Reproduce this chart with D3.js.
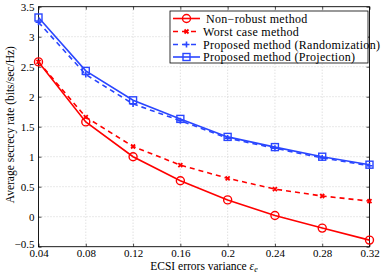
<!DOCTYPE html>
<html><head><meta charset="utf-8">
<script src="https://cdn.jsdelivr.net/npm/d3@7"></script>
<style>body{margin:0;background:#fff}svg{display:block}</style>
</head><body><svg id="c" width="382" height="273" font-family="Liberation Serif"></svg>
<script>
const xValues = [0.04,0.08,0.12,0.16,0.2,0.24,0.28,0.32];
const nonRobust = [2.58,1.58,1.0,0.6,0.28,0.02,-0.19,-0.39];
const worstCase = [2.58,1.66,1.17,0.86,0.64,0.46,0.345,0.26];
const randomization = [3.24,2.37,1.88,1.6,1.31,1.14,0.98,0.85];
const projection = [3.32,2.43,1.94,1.63,1.33,1.16,1.0,0.867];
const seriesNames = ["Non\u2212robust method","Worst case method","Proposed method (Randomization)","Proposed method (Projection)"];
const xTicks = [0.04,0.08,0.12,0.16,0.2,0.24,0.28,0.32];
const xTickLabels = ["0.04","0.08","0.12","0.16","0.2","0.24","0.28","0.32"];
const yTicks = [-0.5,0,0.5,1,1.5,2,2.5,3,3.5];
const yTickLabels = ["\u22120.5","0","0.5","1","1.5","2","2.5","3","3.5"];

const FF = "Liberation Serif";
const svg = d3.select("#c");
const L=38.5,R=369.5,T=6.7,B=246.7;
const x = d3.scaleLinear().domain([0.04,0.32]).range([L,R]);
const y = d3.scaleLinear().domain([-0.5,3.5]).range([B,T]);

// grid
const g = svg.append("g");
g.selectAll(".gx").data(xTicks.slice(1,-1)).join("line")
 .attr("x1",d=>x(d)).attr("x2",d=>x(d)).attr("y1",T).attr("y2",B)
 .attr("stroke","#c8c8c8").attr("stroke-width",0.8).attr("stroke-dasharray","1,2");
g.selectAll(".gy").data(yTicks.slice(1,-1)).join("line")
 .attr("y1",d=>y(d)).attr("y2",d=>y(d)).attr("x1",L).attr("x2",R)
 .attr("stroke","#c8c8c8").attr("stroke-width",0.8).attr("stroke-dasharray","1,2");

// axes
const xa = svg.append("g").attr("transform",`translate(0,${B})`)
 .call(d3.axisBottom(x).tickValues(xTicks).tickFormat((d,i)=>xTickLabels[i]).tickSizeInner(-3).tickSizeOuter(0).tickPadding(3));
const xa2 = svg.append("g").attr("transform",`translate(0,${T})`)
 .call(d3.axisTop(x).tickValues(xTicks).tickFormat("").tickSizeInner(-3).tickSizeOuter(0));
const ya = svg.append("g").attr("transform",`translate(${L},0)`)
 .call(d3.axisLeft(y).tickValues(yTicks).tickFormat((d,i)=>yTickLabels[i]).tickSizeInner(-3).tickSizeOuter(0).tickPadding(4));
const ya2 = svg.append("g").attr("transform",`translate(${R},0)`)
 .call(d3.axisRight(y).tickValues(yTicks).tickFormat("").tickSizeInner(-3).tickSizeOuter(0));
[xa,xa2,ya,ya2].forEach(a=>{a.attr("font-family",FF).attr("font-size",11);a.select(".domain").remove();a.selectAll("line").attr("stroke","#000").attr("stroke-width",0.7);
 a.selectAll("text").attr("fill","#000");});
xa.selectAll("text").attr("dy","0.62em");
ya.selectAll("text").filter(d=>d===-0.5).attr("dy","0.05em");
svg.append("rect").attr("x",L).attr("y",T).attr("width",R-L).attr("height",B-T).attr("fill","none").attr("stroke","#000").attr("stroke-width",0.9);

// labels
svg.append("text").attr("x",(L+R)/2).attr("y",270).attr("text-anchor","middle").attr("font-size",11.5).attr("font-family",FF)
 .html('ECSI errors variance <tspan font-style="italic">ε</tspan><tspan font-style="italic" font-size="8" dy="2">e</tspan>');
svg.append("text").attr("transform",`translate(14,${(T+B)/2-2}) rotate(-90)`).attr("text-anchor","middle").attr("font-size",11.5).attr("font-family",FF)
 .text("Average secrecy rate (bits/sec/Hz)");

const series = [
 {vals:nonRobust,color:"#ff0000",dash:null,marker:"o"},
 {vals:worstCase,color:"#ff0000",dash:"5,4",marker:"x"},
 {vals:randomization,color:"#2a46ff",dash:"5,4",marker:"+"},
 {vals:projection,color:"#2a46ff",dash:null,marker:"s"}
];
const line = d3.line().x((d,i)=>x(xValues[i])).y(d=>y(d));
function drawMarker(sel,type,cx,cy,color){
 if(type==="o") sel.append("circle").attr("cx",cx).attr("cy",cy).attr("r",4).attr("fill","none").attr("stroke",color).attr("stroke-width",1.4);
 else if(type==="s") sel.append("rect").attr("x",cx-3.5).attr("y",cy-3.5).attr("width",7).attr("height",7).attr("fill","none").attr("stroke",color).attr("stroke-width",1.4);
 else if(type==="+") sel.append("path").attr("d",`M${cx-3},${cy}H${cx+3}M${cx},${cy-3}V${cy+3}`).attr("stroke",color).attr("stroke-width",1.6);
 else if(type==="x") sel.append("path").attr("d",`M${cx-2},${cy-2}L${cx+2},${cy+2}M${cx-2},${cy+2}L${cx+2},${cy-2}`).attr("stroke",color).attr("stroke-width",1.8);
}
series.forEach(s=>{
 const p = svg.append("path").datum(s.vals).attr("d",line).attr("fill","none").attr("stroke",s.color).attr("stroke-width",1.6);
 if(s.dash) p.attr("stroke-dasharray",s.dash);
 const mg = svg.append("g");
 s.vals.forEach((v,i)=>drawMarker(mg,s.marker,x(xValues[i]),y(v),s.color));
});

// legend
const lg = svg.append("g");
lg.append("rect").attr("x",170).attr("y",11).attr("width",198).attr("height",52).attr("fill","#fff").attr("stroke","#000").attr("stroke-width",0.8);
const ly = [18.5,31.5,44.5,57];
series.forEach((s,i)=>{
 const l = lg.append("line").attr("x1",173).attr("x2",200).attr("y1",ly[i]).attr("y2",ly[i]).attr("stroke",s.color).attr("stroke-width",1.6);
 if(s.dash) l.attr("stroke-dasharray","5,4");
 drawMarker(lg,s.marker,186.5,ly[i],s.color);
 lg.append("text").attr("x",i===0?206:203).attr("y",ly[i]+4).attr("font-size",12).attr("letter-spacing",0.3).attr("font-family",FF).text(seriesNames[i]);
});
</script></body></html>
